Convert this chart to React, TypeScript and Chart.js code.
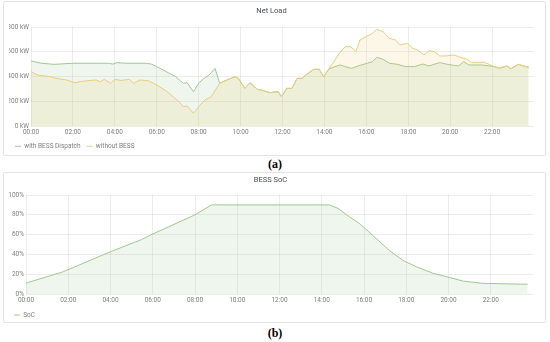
import React, { useEffect, useRef } from 'react';
import { Chart, registerables } from 'chart.js';

Chart.register(...registerables);

// ---------- data ----------
const hourTicks = [0, 2, 4, 6, 8, 10, 12, 14, 16, 18, 20, 22];
const kwTicks = [0, 200, 400, 600, 800];
const pctTicks = [0, 20, 40, 60, 80, 100];

const seriesNames = ['with BESS Dispatch', 'without BESS'];

const withBessHours = [
  0, 0.5, 1.1, 2.0, 3.7, 3.9, 4.1, 4.5, 5.5, 5.75, 6.0, 6.6, 6.9, 7.27, 7.45, 7.75, 8.0, 8.25, 8.5, 8.78,
  9.0, 9.35, 9.74, 9.9, 10.2, 10.45, 10.8, 11.1, 11.4, 11.6, 11.8, 11.95, 12.2, 12.45, 12.7, 12.95, 13.1,
  13.5, 13.75, 13.96, 14.2, 14.5, 14.76, 15.0, 15.3, 15.6, 16.04, 16.3, 16.5, 16.8, 17.1, 17.5, 17.85,
  18.3, 18.7, 18.97, 19.5, 19.8, 20.2, 20.4, 20.65, 20.9, 21.5, 22.1, 22.35, 22.7, 22.9, 23.25, 23.5, 23.75,
];
const withBessKw = [
  525, 507, 498, 507, 507, 500, 512, 507, 507, 500, 480, 426, 399, 345, 350, 277, 345, 385, 412, 466,
  345, 372, 399, 385, 304, 350, 297, 285, 269, 275, 277, 237, 304, 304, 385, 385, 412,
  458, 458, 399, 458, 480, 493, 480, 466, 485, 507, 520, 555, 539, 507, 498, 480,
  480, 501, 485, 512, 501, 489, 485, 520, 493, 493, 480, 466, 485, 463, 498, 485, 474,
];

const withoutBessHours = [
  0, 0.3, 0.9, 1.2, 1.7, 2.1, 2.4, 2.7, 3.1, 3.3, 3.5, 3.8, 4.0, 4.3, 4.7, 4.9, 5.2, 5.6, 6.0, 6.5,
  7.1, 7.27, 7.45, 7.75, 8.07, 8.3, 8.6, 9.0, 9.35, 9.74, 9.9, 10.2, 10.45, 10.8, 11.1, 11.4, 11.6, 11.8,
  11.95, 12.2, 12.45, 12.7, 12.95, 13.1, 13.5, 13.75, 13.96, 14.2, 14.5, 14.76, 15.0, 15.25, 15.5, 15.7,
  16.04, 16.3, 16.5, 16.8, 17.1, 17.4, 17.6, 17.97, 18.2, 18.45, 18.75, 19.0, 19.25, 19.5, 19.8, 20.2,
  20.4, 20.8, 21.0, 21.65, 21.8, 22.1, 22.35, 22.7, 22.9, 23.25, 23.5, 23.75,
];
const withoutBessKw = [
  440, 412, 399, 385, 372, 350, 360, 366, 372, 358, 377, 345, 377, 368, 377, 345, 372, 366, 331, 277,
  190, 156, 162, 103, 170, 210, 237, 345, 372, 399, 385, 304, 350, 297, 285, 269, 275, 277,
  237, 304, 304, 385, 385, 412, 458, 458, 399, 458, 533, 601, 641, 641, 601, 695,
  727, 749, 781, 762, 708, 695, 655, 668, 628, 614, 574, 608, 601, 566, 566, 574,
  560, 539, 515, 515, 503, 480, 466, 485, 463, 498, 485, 474,
];

const socHours = [0, 1.76, 4.0, 5.47, 6.0, 8.0, 8.78, 14.37, 14.77, 15.3, 15.8, 16.58, 17.2, 17.84, 18.47, 19.26, 19.9, 20.7, 21.6, 23.75];
const socPct = [11, 22.5, 42.7, 55, 60.6, 80, 90, 90, 86.5, 78, 71, 56, 44, 34, 27.6, 21, 17.5, 13, 10.8, 9.8];

// ---------- styles ----------
const FONT = 'Roboto, "Noto Sans", sans-serif';
const GREEN = 'rgb(162,198,146)';
const GREEN_FILL = 'rgba(150,192,132,0.15)';
const YELLOW = 'rgb(234,204,124)';
const YELLOW_FILL = 'rgba(232,198,100,0.15)';
const GRID = 'rgba(0,0,0,0.07)';
const TICK = '#7f7f7f';

const pad2 = (h: number) => (h < 10 ? '0' : '') + h + ':00';
const zip = (xs: number[], ys: number[]) => xs.map((x, i) => ({ x, y: ys[i] }));

type Geo = {
  title: string;
  titleTop: number;
  titleBottom: number;
  legendH: number;
  padLeft: number;
  padRight: number;
  yWidth: number;
  xHeight: number;
  yTicks: number[];
  yMax: number;
  yFmt: (v: number) => string;
};

function makeOptions(g: Geo): any {
  return {
    responsive: false,
    animation: false,
    devicePixelRatio: 1,
    layout: { padding: { left: g.padLeft, right: g.padRight, top: 0, bottom: 0 } },
    plugins: {
      title: {
        display: true,
        text: g.title,
        color: '#4a4d55',
        font: { family: FONT, size: 7.5, weight: 'normal' },
        padding: { top: g.titleTop, bottom: g.titleBottom },
      },
      legend: {
        display: true,
        position: 'bottom',
        align: 'start',
        maxHeight: g.legendH,
        labels: {
          usePointStyle: true,
          pointStyle: 'line',
          pointStyleWidth: 6,
          padding: 6,
          color: TICK,
          font: { family: FONT, size: 6.5 },
          sort: (a: any, b: any) => a.datasetIndex - b.datasetIndex,
        },
      },
      tooltip: { enabled: false },
    },
    scales: {
      x: {
        type: 'linear',
        min: 0,
        max: 24,
        afterBuildTicks: (s: any) => {
          s.ticks = hourTicks.map((v) => ({ value: v }));
        },
        afterFit: (s: any) => {
          s.height = g.xHeight;
        },
        ticks: {
          autoSkip: false,
          maxRotation: 0,
          padding: 2,
          color: TICK,
          font: { family: FONT, size: 6.5 },
          callback: (v: any) => pad2(Number(v)),
        },
        grid: { color: GRID, drawTicks: false },
        border: { display: false },
      },
      y: {
        type: 'linear',
        min: 0,
        max: g.yMax,
        afterBuildTicks: (s: any) => {
          s.ticks = g.yTicks.map((v) => ({ value: v }));
        },
        afterFit: (s: any) => {
          s.width = g.yWidth;
        },
        ticks: {
          padding: 2,
          color: TICK,
          font: { family: FONT, size: 6.5 },
          callback: (v: any) => g.yFmt(Number(v)),
        },
        grid: { color: GRID, drawTicks: false },
        border: { display: false },
      },
    },
  };
}

function ChartCanvas({ width, height, config }: { width: number; height: number; config: () => any }) {
  const ref = useRef<HTMLCanvasElement | null>(null);
  useEffect(() => {
    if (!ref.current) return;
    const chart = new Chart(ref.current, config());
    return () => chart.destroy();
  }, []);
  return <canvas ref={ref} width={width} height={height} style={{ width, height, display: 'block' }} />;
}

const netLoadConfig = () => ({
  type: 'line',
  data: {
    datasets: [
      {
        label: seriesNames[0],
        data: zip(withBessHours, withBessKw),
        borderColor: GREEN,
        backgroundColor: GREEN_FILL,
        borderWidth: 1,
        pointRadius: 0,
        fill: 'origin',
        tension: 0,
        order: 1,
      },
      {
        label: seriesNames[1],
        data: zip(withoutBessHours, withoutBessKw),
        borderColor: YELLOW,
        backgroundColor: YELLOW_FILL,
        borderWidth: 1,
        pointRadius: 0,
        fill: 'origin',
        tension: 0,
        order: 0,
      },
    ],
  },
  options: makeOptions({
    title: 'Net Load',
    titleTop: 4.5,
    titleBottom: 11.5,
    legendH: 18,
    padLeft: 5,
    padRight: 11,
    yWidth: 22,
    xHeight: 11,
    yTicks: kwTicks,
    yMax: 800,
    yFmt: (v) => v + ' kW',
  }),
});

const socConfig = () => ({
  type: 'line',
  data: {
    datasets: [
      {
        label: 'SoC',
        data: zip(socHours, socPct),
        borderColor: GREEN,
        backgroundColor: GREEN_FILL,
        borderWidth: 1,
        pointRadius: 0,
        fill: 'origin',
        tension: 0,
      },
    ],
  },
  options: makeOptions({
    title: 'BESS SoC',
    titleTop: 2.5,
    titleBottom: 10.5,
    legendH: 16.25,
    padLeft: 4,
    padRight: 12,
    yWidth: 18,
    xHeight: 11.75,
    yTicks: pctTicks,
    yMax: 100,
    yFmt: (v) => v + '%',
  }),
});

const panelStyle = (top: number, height: number): React.CSSProperties => ({
  position: 'absolute',
  left: 3,
  top,
  width: 543,
  height,
  boxSizing: 'border-box',
  border: '1px solid #e4e4e4',
  borderRadius: 2,
  background: '#fff',
});

const capStyle = (top: number): React.CSSProperties => ({
  position: 'absolute',
  left: 0,
  width: 550,
  top,
  textAlign: 'center',
  fontFamily: '"Liberation Serif", "DejaVu Serif", serif',
  fontWeight: 'bold',
  fontSize: 12,
  lineHeight: '14px',
  color: '#000',
});

export default function App() {
  return (
    <div style={{ position: 'absolute', left: 0, top: 0, width: 550, height: 342, background: '#fff', overflow: 'hidden' }}>
      <div style={panelStyle(1, 155)}>
        <ChartCanvas width={541} height={153} config={netLoadConfig} />
      </div>
      <div style={{ ...capStyle(157) }}>(a)</div>
      <div style={panelStyle(172, 151)}>
        <ChartCanvas width={541} height={149} config={socConfig} />
      </div>
      <div style={{ ...capStyle(326) }}>(b)</div>
    </div>
  );
}
